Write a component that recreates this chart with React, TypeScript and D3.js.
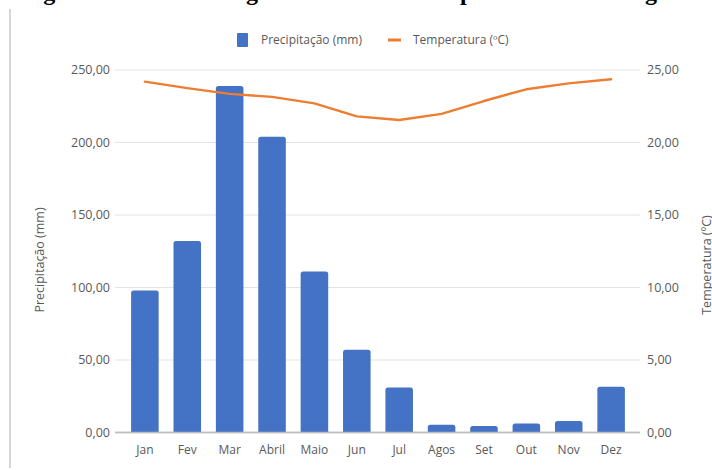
import React from "react";
import * as d3 from "d3";

const months = ["Jan", "Fev", "Mar", "Abril", "Maio", "Jun", "Jul", "Agos", "Set", "Out", "Nov", "Dez"];
const precipitation = [98, 132, 239, 204, 111, 57, 31, 5.3, 4.5, 6.2, 8, 31.5];
const temperature = [24.2, 23.75, 23.35, 23.15, 22.7, 21.8, 21.55, 21.97, 22.86, 23.67, 24.08, 24.36];
const precipTicks = [0, 50, 100, 150, 200, 250];
const tempTicks = [0, 5, 10, 15, 20, 25];
const seriesNames = ["Precipitação (mm)", "Temperatura (ºC)"];
const axisTitles = ["Precipitação (mm)", "Temperatura (ºC)"];

const W = 712;
const H = 470;
const plotLeft = 115;
const plotRight = 640;
const plotTop = 70;
const plotBottom = 432.5;

const BLUE = "#4472C4";
const ORANGE = "#ED7D31";
const TEXT = "#595959";
const FONT = "'Open Sans', sans-serif";

const fmt = (v: number) => d3.format(".2f")(v).replace(".", ",");

export default function App() {
  const x = d3.scaleBand<string>().domain(months).range([plotLeft, plotRight + 1]).paddingInner(0.35).paddingOuter(0.38);
  const y = d3.scaleLinear().domain([0, 250]).range([plotBottom, plotTop]);
  const yT = d3.scaleLinear().domain([0, 25]).range([plotBottom, plotTop]);
  const line = d3
    .line<number>()
    .x((_, i) => (x(months[i]) as number) + x.bandwidth() / 2)
    .y((d) => yT(d));

  return (
    <svg
      width={W}
      height={H}
      style={{ position: "absolute", left: 0, top: 0, background: "#fff" }}
      fontFamily={FONT}
    >
      <rect x={0} y={0} width={W} height={H} fill="#fff" />
      {/* clipped caption from page above */}
      <text y={0} fontFamily="'Liberation Serif', serif" fontWeight="bold" fontSize={24} fill="#000">
        <tspan x={22}>Figura 2 – Climo</tspan>
        <tspan x={246}>grama da cidade: tem</tspan>
        <tspan x={460}>peratura de Ma</tspan>
        <tspan x={645}>gé</tspan>
      </text>
      <line x1={10} x2={10} y1={9} y2={468} stroke="#c8c8c8" strokeWidth={1.5} />

      {/* gridlines */}
      {precipTicks.map((t) => (
        <line key={t} x1={plotLeft} x2={plotRight} y1={y(t)} y2={y(t)} stroke={t === 0 ? "#bfbfbf" : "#e3e3e3"} strokeWidth={t === 0 ? 1.6 : 1} />
      ))}

      {/* left tick labels */}
      {precipTicks.map((t) => (
        <text key={t} x={110} y={y(t)} dy="0.35em" textAnchor="end" fontSize={12.5} fill={TEXT}>
          {fmt(t)}
        </text>
      ))}
      {/* right tick labels */}
      {tempTicks.map((t) => (
        <text key={t} x={647} y={yT(t)} dy="0.35em" textAnchor="start" fontSize={12.5} fill={TEXT}>
          {fmt(t)}
        </text>
      ))}

      {/* bars */}
      {precipitation.map((v, i) => (
        <path
          key={months[i]}
          d={(() => {
            const x0 = x(months[i]) as number;
            const w = x.bandwidth();
            const top = y(v);
            const r = Math.min(2.5, (plotBottom - top) / 2);
            return `M${x0},${plotBottom}V${top + r}Q${x0},${top} ${x0 + r},${top}H${x0 + w - r}Q${x0 + w},${top} ${x0 + w},${top + r}V${plotBottom}Z`;
          })()}
          fill={BLUE}
        />
      ))}
      <line x1={plotLeft} x2={plotRight} y1={plotBottom} y2={plotBottom} stroke="#bfbfbf" strokeWidth={1.6} />

      {/* temperature line */}
      <path d={line(temperature) as string} fill="none" stroke={ORANGE} strokeWidth={2.4} strokeLinejoin="round" strokeLinecap="round" />

      {/* x labels */}
      {months.map((m) => (
        <text key={m} x={(x(m) as number) + x.bandwidth() / 2} y={454} textAnchor="middle" fontSize={12} fill={TEXT}>
          {m}
        </text>
      ))}

      {/* axis titles */}
      <text transform="translate(44,260) rotate(-90)" textAnchor="middle" fontSize={12.5} fill={TEXT}>
        {axisTitles[0]}
      </text>
      <text transform="translate(711,265) rotate(-90)" textAnchor="middle" fontSize={12.5} fill={TEXT}>
        {axisTitles[1]}
      </text>

      {/* legend */}
      <rect x={237} y={33} width={11} height={14} rx={1} fill={BLUE} />
      <text x={261} y={40} dy="0.35em" fontSize={12} fill={TEXT}>
        {seriesNames[0]}
      </text>
      <line x1={388} x2={401} y1={40} y2={40} stroke={ORANGE} strokeWidth={3} />
      <text x={413} y={40} dy="0.35em" fontSize={12} fill={TEXT}>
        {seriesNames[1]}
      </text>
    </svg>
  );
}
